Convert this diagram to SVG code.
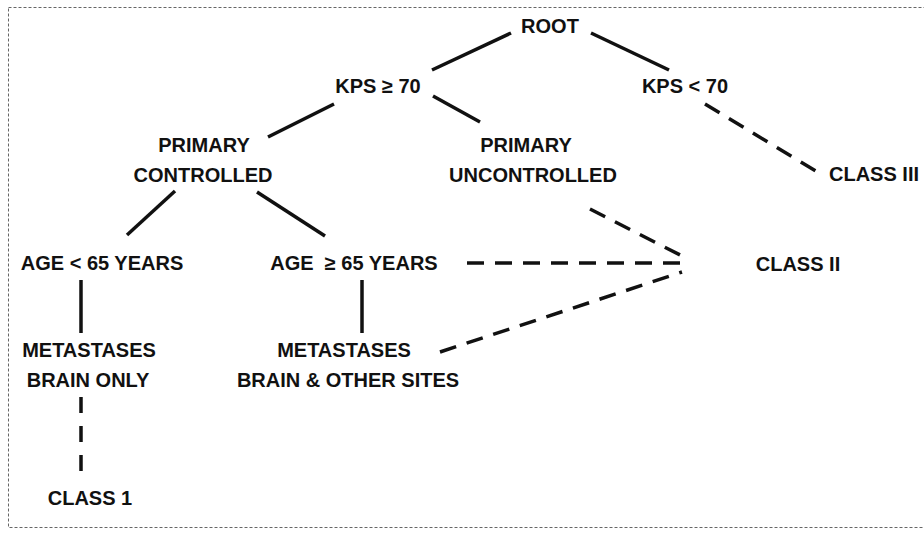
<svg xmlns="http://www.w3.org/2000/svg" width="924" height="533" viewBox="0 0 924 533">
<style>
text{font-family:"Liberation Sans",Arial,sans-serif;font-weight:bold;font-size:20px;fill:#111;text-anchor:middle;white-space:pre}
.s{stroke:#111;stroke-width:3.5;fill:none;stroke-linecap:butt}
.d{stroke:#111;stroke-width:3.5;fill:none;stroke-dasharray:17 11}
</style>
<rect x="8.5" y="7.5" width="922" height="520" fill="none" stroke="#666" stroke-width="1" stroke-dasharray="3 2"/>
<g id="connectors">
<line class="s" x1="432" y1="70" x2="511" y2="33"/>
<line class="s" x1="591" y1="33" x2="669" y2="70"/>
<line class="s" x1="334" y1="104" x2="268" y2="137"/>
<line class="s" x1="433" y1="96" x2="480" y2="122"/>
<line class="d" x1="705" y1="104" x2="819" y2="173"/>
<line class="s" x1="175" y1="191" x2="127" y2="235"/>
<line class="s" x1="257" y1="192" x2="325" y2="236"/>
<line class="s" x1="81" y1="280" x2="81" y2="333"/>
<line class="s" x1="362" y1="280" x2="362" y2="333"/>
<line class="d" x1="81" y1="397" x2="81" y2="472" style="stroke-dasharray:16 13"/>
<line class="d" x1="590" y1="209" x2="684" y2="257"/>
<line class="d" x1="467" y1="263" x2="684" y2="263"/>
<line class="d" x1="440" y1="352" x2="682" y2="272"/>
</g>
<g id="root"><text x="550" y="33">ROOT</text></g>
<g id="kps-ge-70"><text x="378" y="93">KPS ≥ 70</text></g>
<g id="kps-lt-70"><text x="685" y="93">KPS &lt; 70</text></g>
<g id="primary-controlled"><text x="204" y="152">PRIMARY</text><text x="203" y="182">CONTROLLED</text></g>
<g id="primary-uncontrolled"><text x="526" y="152">PRIMARY</text><text x="533" y="182">UNCONTROLLED</text></g>
<g id="class-3"><text x="874" y="181">CLASS III</text></g>
<g id="age-lt-65"><text x="102" y="270">AGE &lt; 65 YEARS</text></g>
<g id="age-ge-65"><text x="354" y="270">AGE  ≥ 65 YEARS</text></g>
<g id="class-2"><text x="798" y="271">CLASS II</text></g>
<g id="met-brain-only"><text x="89" y="357">METASTASES</text><text x="88" y="387">BRAIN ONLY</text></g>
<g id="met-brain-other"><text x="344" y="357">METASTASES</text><text x="348" y="387">BRAIN &amp; OTHER SITES</text></g>
<g id="class-1"><text x="90" y="505">CLASS 1</text></g>
</svg>
